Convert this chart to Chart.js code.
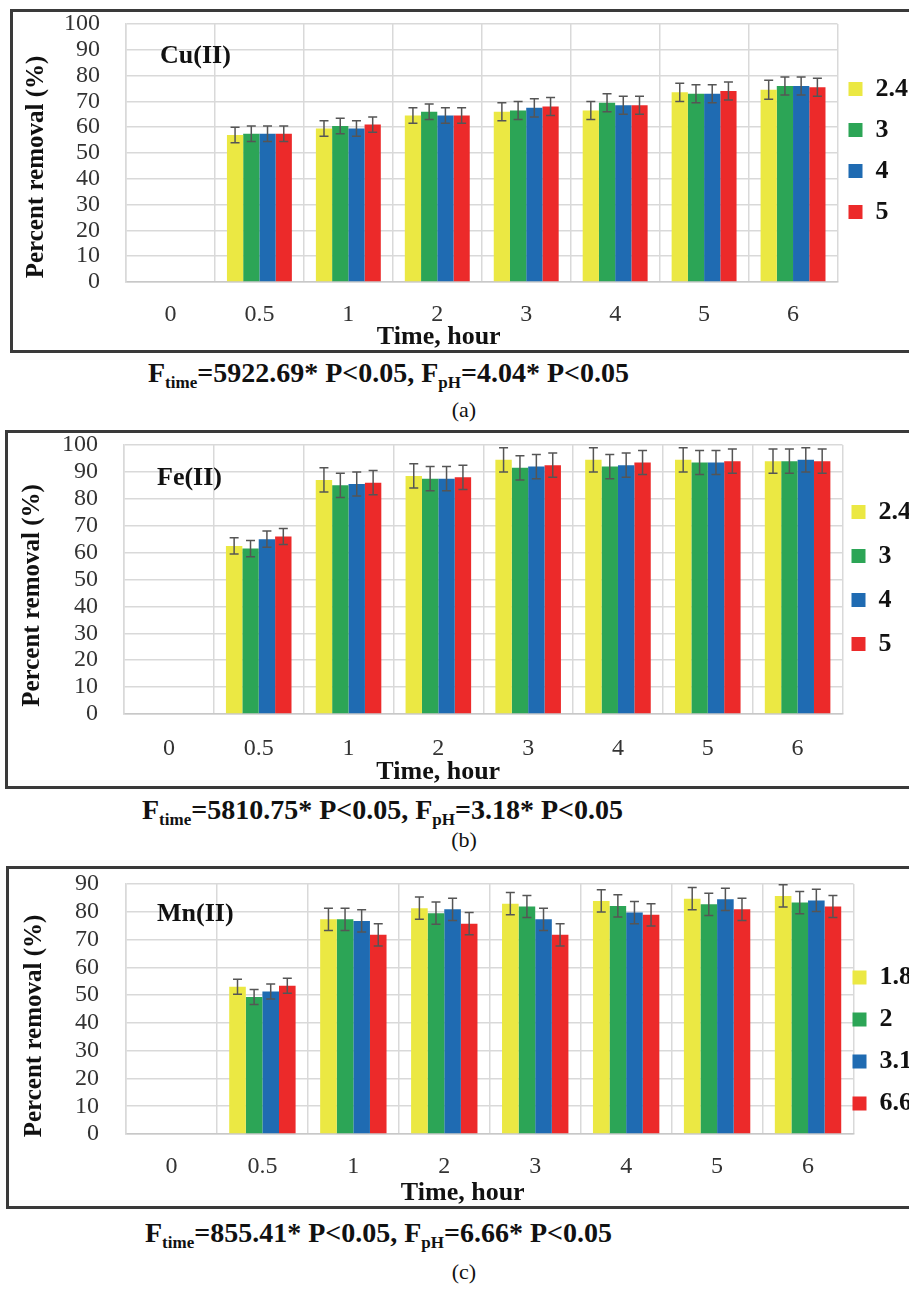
<!DOCTYPE html>
<html>
<head>
<meta charset="utf-8">
<script src="https://cdn.jsdelivr.net/npm/chart.js@4.4.1/dist/chart.umd.min.js"></script>
<style>
  html, body { margin: 0; padding: 0; background: #fff; }
  body { width: 909px; height: 1290px; position: relative; overflow: hidden; font-family: 'Liberation Serif', 'Times New Roman', serif; color: #111; }
  .frame { position: absolute; box-sizing: border-box; border: 3px solid #3a3a3a; border-right: none; width: 940px; }
  canvas { position: absolute; left: 0; }
  .cap { position: absolute; font-weight: bold; font-size: 28px; line-height: 30px; white-space: nowrap; }
  .cap sub { font-size: 17px; vertical-align: -6px; line-height: 0; }
  .tag { position: absolute; font-size: 22px; line-height: 26px; width: 60px; text-align: center; }
</style>
</head>
<body>
<div class="frame" style="left:10px;top:9px;height:344px"></div>
<div class="frame" style="left:5px;top:430px;height:359px"></div>
<div class="frame" style="left:6px;top:866px;height:343px"></div>

<canvas id="cu" width="922" height="344" style="top:9px"></canvas>
<canvas id="fe" width="930" height="359" style="top:430px"></canvas>
<canvas id="mn" width="939" height="343" style="top:866px"></canvas>

<div class="cap" style="left:148px;top:358px">F<sub>time</sub>=5922.69* P&lt;0.05, F<sub>pH</sub>=4.04* P&lt;0.05</div>
<div class="tag" style="left:434px;top:397px">(a)</div>
<div class="cap" style="left:142px;top:795px">F<sub>time</sub>=5810.75* P&lt;0.05, F<sub>pH</sub>=3.18* P&lt;0.05</div>
<div class="tag" style="left:434px;top:827px">(b)</div>
<div class="cap" style="left:145px;top:1218px">F<sub>time</sub>=855.41* P&lt;0.05, F<sub>pH</sub>=6.66* P&lt;0.05</div>
<div class="tag" style="left:434px;top:1259px">(c)</div>

<script>
// time points (hours) shared by the three panels
const times = ['0', '0.5', '1', '2', '3', '4', '5', '6'];
const colors = ['#ebe843', '#2ca556', '#1f6bb2', '#ec2a2a'];

// Cu(II), pH 2.4 / 3 / 4 / 5
const cuPH = ['2.4', '3', '4', '5'];
const cuValues = [
  [0, 57, 59.5, 64.5, 66, 66.5, 73.5, 74.5],
  [0, 57.5, 60.5, 66, 66.5, 69.5, 73, 76],
  [0, 57.5, 59.5, 64.5, 67.5, 68.5, 73, 76],
  [0, 57.5, 61, 64.5, 68, 68.5, 74, 75.5]
];
const cuErrors = [
  [0, 3, 3, 3, 3.5, 3.5, 3.5, 3.7],
  [0, 3, 3, 3, 3.5, 3.5, 3.5, 3.5],
  [0, 3, 3, 3, 3.5, 3.5, 3.5, 3.5],
  [0, 3, 3, 3, 3.5, 3.5, 3.5, 3.5]
];

// Fe(II), pH 2.4 / 3 / 4 / 5
const fePH = ['2.4', '3', '4', '5'];
const feValues = [
  [0, 62.5, 87, 88.5, 94.5, 94.5, 94.5, 94],
  [0, 61.5, 85, 87.5, 91.5, 92, 93.5, 94],
  [0, 65, 85.5, 87.5, 92, 92.5, 93.5, 94.5],
  [0, 66, 86, 88, 92.5, 93.5, 94, 94]
];
const feErrors = [
  [0, 3, 4.5, 4.5, 4.5, 4.5, 4.5, 4.5],
  [0, 3, 4.5, 4.5, 4.5, 4.5, 4.5, 4.5],
  [0, 3, 4.5, 4.5, 4.5, 4.5, 4.5, 4.5],
  [0, 3, 4.5, 4.5, 4.5, 4.5, 4.5, 4.5]
];

// Mn(II), pH 1.8 / 2 / 3.1 / 6.6
const mnPH = ['1.8', '2', '3.1', '6.6'];
const mnValues = [
  [0, 53, 77.3, 81.3, 82.9, 83.9, 84.7, 85.7],
  [0, 49.3, 77.3, 79.5, 81.9, 82.1, 82.7, 83.3],
  [0, 51.3, 76.7, 80.9, 77.3, 79.7, 84.5, 84.1],
  [0, 53.4, 71.7, 75.7, 71.7, 78.9, 80.9, 81.9]
];
const mnErrors = [
  [0, 2.7, 4, 4, 4, 4, 4, 4],
  [0, 2.7, 4, 4, 4, 4, 4, 4],
  [0, 2.7, 4, 4, 4, 4, 4, 4],
  [0, 2.7, 4, 4, 4, 4, 4, 4]
];

const SERIF = "'Liberation Serif', 'Times New Roman', serif";
Chart.defaults.font.family = SERIF;

// +/- error whiskers drawn from each bar's own position
const errorBars = {
  id: 'errorBars',
  afterDatasetsDraw(chart) {
    const { ctx } = chart; const y = chart.scales.y;
    ctx.save();
    ctx.strokeStyle = '#555'; ctx.lineWidth = 1.5;
    chart.data.datasets.forEach((ds, i) => {
      const meta = chart.getDatasetMeta(i);
      meta.data.forEach((bar, j) => {
        const e = ds.errors[j]; if (!e) return;
        const v = ds.data[j];
        const t = y.getPixelForValue(v + e), b = y.getPixelForValue(v - e);
        const cw = 4.5;
        ctx.beginPath();
        ctx.moveTo(bar.x, t); ctx.lineTo(bar.x, b);
        ctx.moveTo(bar.x - cw, t); ctx.lineTo(bar.x + cw, t);
        ctx.moveTo(bar.x - cw, b); ctx.lineTo(bar.x + cw, b);
        ctx.stroke();
      });
    });
    ctx.restore();
  }
};

// metal label + axis titles (the original places them off-centre)
const panelText = {
  id: 'panelText',
  afterDraw(chart, args, o) {
    const { ctx, chartArea: a } = chart; const y = chart.scales.y;
    ctx.save();
    ctx.fillStyle = '#111';
    ctx.font = 'bold 26px ' + SERIF;
    ctx.textBaseline = 'middle';
    ctx.textAlign = 'left';
    ctx.fillText(o.metal, a.left + o.metalDx, y.getPixelForValue(o.metalAt));
    ctx.textAlign = 'center';
    ctx.fillText('Time, hour', (a.left + a.right) / 2 + o.xTitleDx, a.bottom + o.xTitleDy);
    ctx.font = 'bold 25px ' + SERIF;
    ctx.translate(o.yTitleX, (a.top + a.bottom) / 2 + o.yTitleDy);
    ctx.rotate(-Math.PI / 2);
    ctx.fillText('Percent removal (%)', 0, 0);
    ctx.restore();
  }
};

// nudge the legend block (Excel put it a little off the default spot)
const legendShift = {
  id: 'legendShift',
  afterLayout(chart, args, o) {
    const lg = chart.legend; if (!lg) return;
    lg.left += o.dx || 0; lg.right += o.dx || 0;
    lg.top += o.dy || 0; lg.bottom += o.dy || 0;
  }
};

function makeChart(id, pH, values, errors, cfg) {
  const datasets = pH.map((p, i) => ({
    label: p,
    data: values[i],
    errors: errors[i],
    backgroundColor: colors[i],
    borderWidth: 0,
    categoryPercentage: 0.73,
    barPercentage: 1.0
  }));
  return new Chart(document.getElementById(id), {
    type: 'bar',
    data: { labels: times, datasets },
    plugins: [errorBars, panelText, legendShift],
    options: {
      responsive: false,
      animation: false,
      layout: { padding: { top: cfg.padTop, left: 0, right: 0, bottom: 0 } },
      scales: {
        x: {
          grid: { color: '#d9d9d9', lineWidth: 1.5, drawTicks: false, offset: true },
          border: { color: '#c8c8c8', width: 1.5 },
          ticks: { color: '#333', padding: cfg.xPad, font: { family: SERIF, size: 24 } },
          afterFit(s) { s.height = cfg.xHeight; s.paddingLeft = 0; s.paddingRight = 0; }
        },
        y: {
          min: 0, max: cfg.max,
          grid: { color: '#d9d9d9', lineWidth: 1.5, drawTicks: false },
          border: { color: '#d9d9d9', width: 1.5 },
          ticks: { stepSize: 10, autoSkip: false, color: '#333', padding: cfg.yPad, font: { family: SERIF, size: 24 } },
          afterFit(s) { s.width = cfg.yWidth; s.paddingTop = 0; s.paddingBottom = 0; }
        }
      },
      plugins: {
        legend: {
          position: 'right',
          labels: {
            boxWidth: 14, boxHeight: 14, padding: cfg.legendPad, color: '#111',
            font: { family: SERIF, size: 26, weight: 'bold' }
          }
        },
        tooltip: { enabled: false },
        panelText: cfg.text,
        legendShift: cfg.shift
      }
    }
  });
}

makeChart('cu', cuPH, cuValues, cuErrors, {
  max: 100, padTop: 15, xHeight: 71, xPad: 18, yWidth: 126, yPad: 26, legendPad: 15,
  text: { metal: 'Cu(II)', metalDx: 34, metalAt: 87.5, xTitleDx: -43, xTitleDy: 55, yTitleX: 37, yTitleDy: 14 },
  shift: { dx: -4, dy: -38 }
});
makeChart('fe', fePH, feValues, feErrors, {
  max: 100, padTop: 15, xHeight: 75, xPad: 20, yWidth: 124, yPad: 26, legendPad: 18,
  text: { metal: 'Fe(II)', metalDx: 33, metalAt: 87.5, xTitleDx: -45, xTitleDy: 58, yTitleX: 33, yTitleDy: 16 },
  shift: { dx: -9, dy: -39 }
});
makeChart('mn', mnPH, mnValues, mnErrors, {
  max: 90, padTop: 18, xHeight: 75, xPad: 18, yWidth: 126, yPad: 27, legendPad: 16,
  text: { metal: 'Mn(II)', metalDx: 31, metalAt: 79, xTitleDx: -27, xTitleDy: 59, yTitleX: 35, yTitleDy: 17 },
  shift: { dx: -17, dy: -6 }
});
</script>
</body>
</html>
